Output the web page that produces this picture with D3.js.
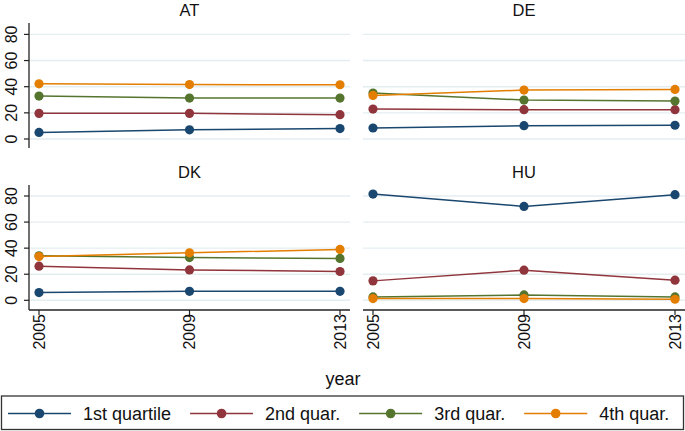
<!DOCTYPE html>
<html>
<head>
<meta charset="utf-8">
<script src="https://cdn.jsdelivr.net/npm/d3@7"></script>
<style>
  html, body { margin: 0; padding: 0; background: #fff; }
  svg { display: block; font-family: "Liberation Sans", Arial, sans-serif; }
</style>
</head>
<body>
<svg id="chart" width="685" height="431"></svg>
<script>
// ---- data ----
const years = [2005, 2009, 2013];
const countries = ["AT", "DE", "DK", "HU"];
const seriesNames = ["1st quartile", "2nd quar.", "3rd quar.", "4th quar."];
const seriesColors = ["#1a476f", "#90353b", "#55752f", "#e37e00"];
const yTicks = [0, 20, 40, 60, 80];
const xTickLabels = ["2005", "2009", "2013"];

const q1 = { AT: [5.0, 7.0, 8.0],    DE: [8.4, 10.2, 10.5],  DK: [5.9, 6.9, 6.9],    HU: [81.5, 72.0, 81.0] };
const q2 = { AT: [19.6, 19.6, 18.6], DE: [22.9, 22.4, 22.4], DK: [26.2, 23.3, 22.1], HU: [14.9, 23.1, 15.4] };
const q3 = { AT: [32.8, 31.3, 31.3], DE: [35.1, 29.8, 29.0], DK: [34.1, 32.8, 32.1], HU: [2.6, 4.1, 2.6] };
const q4 = { AT: [42.2, 41.6, 41.5], DE: [33.3, 37.4, 37.9], DK: [33.6, 36.4, 39.0], HU: [1.3, 1.3, 0.8] };
const seriesData = [q1, q2, q3, q4];

// ---- layout ----
const svg = d3.select("#chart");
const cols = [
  { left: 29, right: 350, x0: 39, x1: 340 },
  { left: 363, right: 685, x0: 373, x1: 675 }
];
const rows = [
  { top: 23, bottom: 148, y0: 139, y80: 34.4, titleY: 16 },
  { top: 185, bottom: 310, y0: 300.3, y80: 196, titleY: 178 }
];
const gridColor = "#e4edf0";
const axisColor = "#222";
const tickFont = 16;

countries.forEach((c, i) => {
  const col = cols[i % 2], row = rows[Math.floor(i / 2)];
  const isLeft = i % 2 === 0, isBottom = i >= 2;
  const x = d3.scaleLinear().domain([2005, 2013]).range([col.x0, col.x1]);
  const y = d3.scaleLinear().domain([0, 80]).range([row.y0, row.y80]);
  const g = svg.append("g");

  // gridlines
  g.selectAll("line.grid").data(yTicks).join("line")
    .attr("x1", col.left).attr("x2", col.right)
    .attr("y1", d => y(d)).attr("y2", d => y(d))
    .attr("stroke", gridColor).attr("stroke-width", 1.4);

  // title
  g.append("text").attr("x", (col.left + col.right) / 2).attr("y", row.titleY)
    .attr("text-anchor", "middle").attr("font-size", 16.5).attr("fill", "#111").text(c);

  // y axis (left column only)
  if (isLeft) {
    g.append("line").attr("x1", col.left).attr("x2", col.left)
      .attr("y1", row.top).attr("y2", row.bottom)
      .attr("stroke", axisColor).attr("stroke-width", 1.3);
    g.selectAll("line.yt").data(yTicks).join("line")
      .attr("x1", col.left - 5).attr("x2", col.left)
      .attr("y1", d => y(d)).attr("y2", d => y(d))
      .attr("stroke", axisColor).attr("stroke-width", 1.2);
    g.selectAll("text.yl").data(yTicks).join("text")
      .attr("transform", d => `translate(${col.left - 18},${y(d)}) rotate(-90)`)
      .attr("text-anchor", "middle").attr("dominant-baseline", "central")
      .attr("font-size", tickFont).attr("fill", "#111").text(d => d);
  }

  // x axis (bottom row only)
  if (isBottom) {
    g.append("line").attr("x1", col.left).attr("x2", col.right)
      .attr("y1", row.bottom).attr("y2", row.bottom)
      .attr("stroke", axisColor).attr("stroke-width", 1.3);
    g.selectAll("line.xt").data(years).join("line")
      .attr("x1", d => x(d)).attr("x2", d => x(d))
      .attr("y1", row.bottom).attr("y2", row.bottom + 5)
      .attr("stroke", axisColor).attr("stroke-width", 1.2);
    g.selectAll("text.xl").data(years).join("text")
      .attr("transform", d => `translate(${x(d)},${row.bottom + 4}) rotate(-90)`)
      .attr("text-anchor", "end").attr("dominant-baseline", "central")
      .attr("font-size", tickFont).attr("fill", "#111")
      .text((d, k) => xTickLabels[k]);
  }

  // series
  const line = d3.line().x((d, k) => x(years[k])).y(d => y(d));
  seriesData.forEach((s, si) => {
    const vals = s[c];
    g.append("path").attr("d", line(vals)).attr("fill", "none")
      .attr("stroke", seriesColors[si]).attr("stroke-width", 1.5);
    g.selectAll(null).data(vals).join("circle")
      .attr("cx", (d, k) => x(years[k])).attr("cy", d => y(d)).attr("r", 4.6)
      .attr("fill", seriesColors[si]);
  });
});

// x axis title
svg.append("text").attr("x", 343).attr("y", 385).attr("text-anchor", "middle")
  .attr("font-size", 18).attr("fill", "#111").text("year");

// legend
svg.append("rect").attr("x", 1.5).attr("y", 396).attr("width", 682).attr("height", 33.5)
  .attr("fill", "#fff").attr("stroke", "#333").attr("stroke-width", 1.3);
let lx = 8;
const ly = 413.5;
seriesNames.forEach((name, si) => {
  const lg = svg.append("g");
  lg.append("line").attr("x1", lx).attr("x2", lx + 63).attr("y1", ly).attr("y2", ly)
    .attr("stroke", seriesColors[si]).attr("stroke-width", 1.5);
  lg.append("circle").attr("cx", lx + 31.5).attr("cy", ly).attr("r", 4.8).attr("fill", seriesColors[si]);
  const t = lg.append("text").attr("x", lx + 75).attr("y", ly).attr("dominant-baseline", "central")
    .attr("font-size", 18).attr("fill", "#111").text(name);
  const w = t.node().getComputedTextLength();
  lx = lx + 75 + w + 19;
});
</script>
</body>
</html>
